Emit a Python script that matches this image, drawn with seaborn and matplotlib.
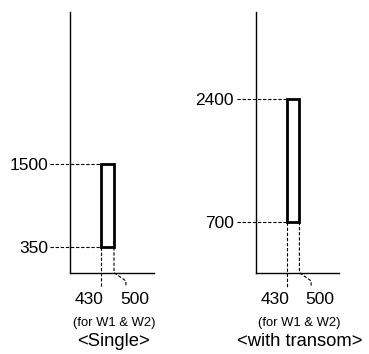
import matplotlib
matplotlib.use("Agg")
import matplotlib.pyplot as plt
import seaborn as sns

# door width marks (same for both panels)
x_marks = [430, 500]
x_labels = ["430", "500"]
width_note = "(for W1 & W2)"

# panel heights
single_y = [350, 1500]
transom_y = [700, 2400]

panel_titles = ["<Single>", "<with transom>"]
panel_heights = [single_y, transom_y]

sns.set_style("white")
plt.rcParams['font.family'] = ['Liberation Sans', 'DejaVu Sans']
plt.rcParams['text.color'] = 'black'
plt.rcParams['ytick.color'] = 'black'

fig = plt.figure(figsize=(3.69, 3.54), dpi=100)
ax_pos = [[0.19, 0.23, 0.228, 0.737], [0.694, 0.23, 0.225, 0.737]]

xlo, xhi = 260, 720
ylo, yhi = 0, 3600
dash = dict(color="black", lw=0.8, ls=(0, (3, 1.6)), clip_on=False)

for pos, ys, title in zip(ax_pos, panel_heights, panel_titles):
    ax = fig.add_axes(pos)
    ax.set_xlim(xlo, xhi)
    ax.set_ylim(ylo, yhi)
    sns.despine(ax=ax)
    for s in ["left", "bottom"]:
        ax.spines[s].set_linewidth(1.0)
        ax.spines[s].set_color("black")

    # the window outline
    ax.bar(x_marks[0], ys[1] - ys[0], bottom=ys[0], width=x_marks[1] - x_marks[0],
           align="edge", fill=False, edgecolor="black", linewidth=2.0)

    # y ticks with leader lines
    ax.set_yticks(ys)
    ax.set_yticklabels([str(v) for v in ys], fontsize=12.5, color="black")
    ax.tick_params(axis="y", length=0, pad=16)
    ax.set_xticks([])
    x_start = xlo - 0.235 * (xhi - xlo)
    for y in ys:
        ax.plot([x_start, x_marks[0]], [y, y], **dash)

    # vertical leader lines below the window
    below = -195
    kink_y = -115
    kink_dx = 65
    ax.plot([x_marks[0], x_marks[0]], [ys[0], below], **dash)
    ax.plot([x_marks[1], x_marks[1], x_marks[1] + kink_dx, x_marks[1] + kink_dx],
            [ys[0], 0, kink_y, below], **dash)

    ax.annotate(x_labels[0], xy=(x_marks[0], 0), xytext=(-8.5, -19.5),
                textcoords="offset points", ha="center", va="center", fontsize=12.5)
    ax.annotate(x_labels[1], xy=(x_marks[1] + kink_dx, 0), xytext=(6.5, -19.5),
                textcoords="offset points", ha="center", va="center", fontsize=12.5)
    ax.text(0.52, -0.193, width_note, transform=ax.transAxes,
            ha="center", va="center", fontsize=9.4)
    ax.text(0.52, -0.265, title, transform=ax.transAxes,
            ha="center", va="center", fontsize=13.2)

fig.savefig("out.png", dpi=100)
